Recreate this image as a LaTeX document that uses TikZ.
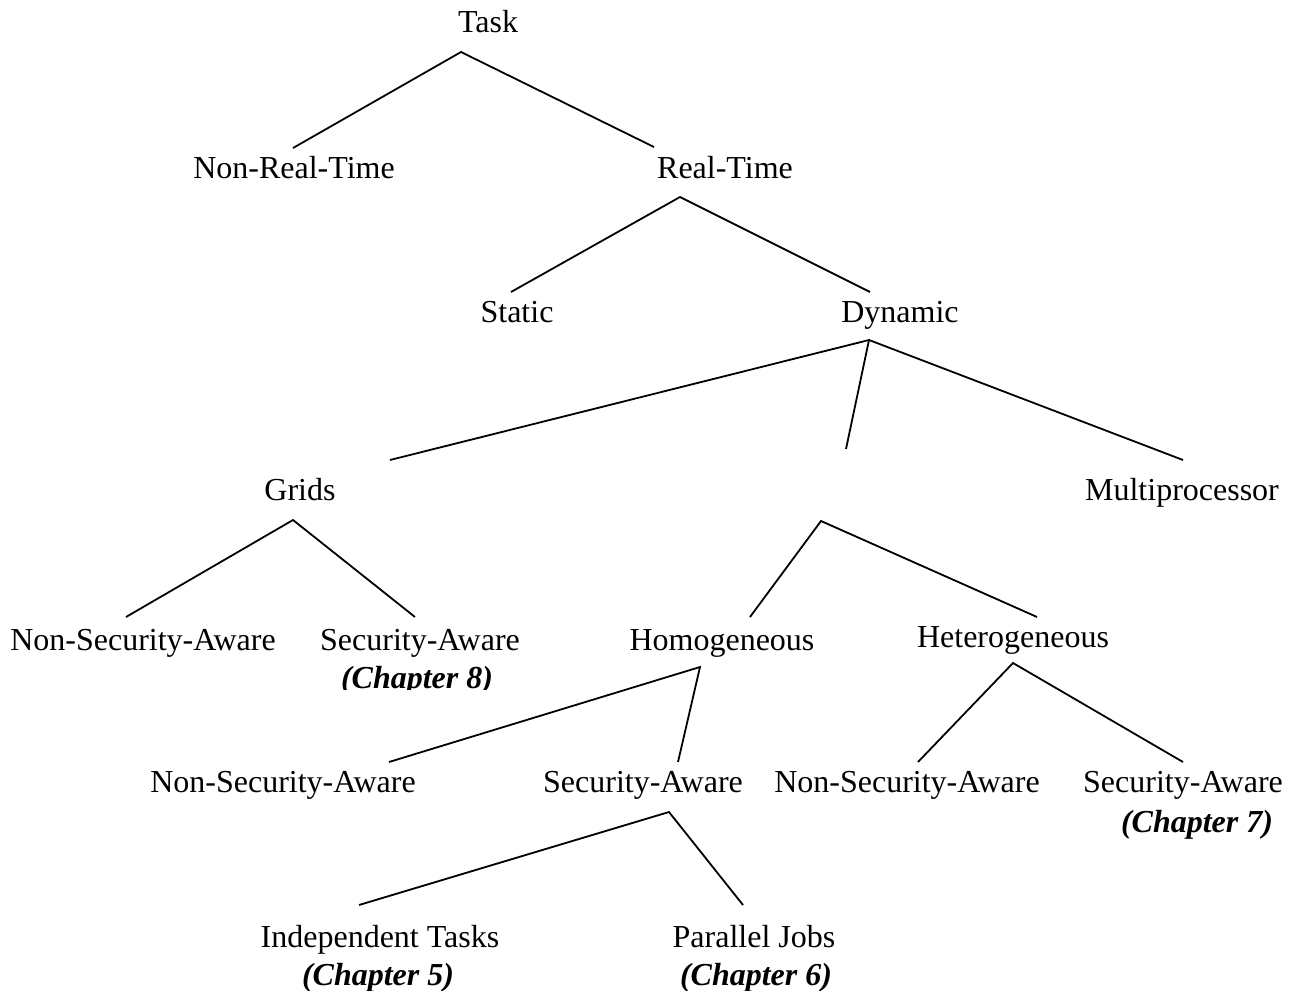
\documentclass[tikz,border=0pt]{standalone}
\usepackage{fontspec}
\setmainfont{Liberation Serif}
\begin{document}
\begin{tikzpicture}[x=1pt,y=-1pt,
  lbl/.style={anchor=base, inner sep=0pt, font=\fontsize{32}{38}\selectfont},
  chap/.style={anchor=base, inner sep=0pt, font=\fontsize{32}{38}\selectfont\bfseries\itshape},
  edge/.style={line width=1.8pt}]
\useasboundingbox (0,0) rectangle (1303,990);

% labels
\node[lbl] (task)    at (488,33)  {Task};
\node[lbl] (nrt)     at (294,178) {Non-Real-Time};
\node[lbl] (rt)      at (725,178) {Real-Time};
\node[lbl] (static)  at (517,322) {Static};
\node[lbl] (dynamic) at (900,322) {Dynamic};
\node[lbl] (grids)   at (300,500) {Grids};
\node[lbl] (multi)   at (1182,500) {Multiprocessor};
\node[lbl] (gnsa)    at (143,650) {Non-Security-Aware};
\node[lbl] (gsa)     at (420,650) {Security-Aware};
% the chapter note below the grid leaf is cut off at its baseline
\begin{scope}
  \clip (300,655) rectangle (540,689);
  \node[chap] (gch)  at (417,688) {(Chapter 8)};
\end{scope}
\node[lbl] (homo)    at (722,650) {Homogeneous};
\node[lbl] (hetero)  at (1013,647) {Heterogeneous};
\node[lbl] (hnsa)    at (283,792) {Non-Security-Aware};
\node[lbl] (hsa)     at (643,792) {Security-Aware};
\node[lbl] (ensa)    at (907,792) {Non-Security-Aware};
\node[lbl] (esa)     at (1183,792) {Security-Aware};
\node[chap] (ech)    at (1197,832) {(Chapter 7)};
\node[lbl] (indep)   at (380,947) {Independent Tasks};
\node[chap] (ich)    at (378,985) {(Chapter 5)};
\node[lbl] (par)     at (754,947) {Parallel Jobs};
\node[chap] (pch)    at (756,985) {(Chapter 6)};

% branch points and branch ends
\coordinate (task-j)  at (461,52);
\coordinate (nrt-t)   at (293,148);
\coordinate (rt-t)    at (654,147);
\coordinate (rt-j)    at (680,197);
\coordinate (static-t) at (511,292);
\coordinate (dyn-t)   at (870,292);
\coordinate (dyn-j)   at (869,340);
\coordinate (grids-t) at (390,460);
\coordinate (mid-t)   at (846,449);
\coordinate (multi-t) at (1183,460);
\coordinate (grids-j) at (293,520);
\coordinate (gnsa-t)  at (126,617);
\coordinate (gsa-t)   at (415,617);
\coordinate (mid-j)   at (821,521);
\coordinate (homo-t)  at (750,617);
\coordinate (hetero-t) at (1037,617);
\coordinate (homo-j)  at (700,667);
\coordinate (hnsa-t)  at (389,762);
\coordinate (hsa-t)   at (678,762);
\coordinate (hetero-j) at (1013,663);
\coordinate (ensa-t)  at (918,762);
\coordinate (esa-t)   at (1183,762);
\coordinate (hsa-j)   at (669,812);
\coordinate (indep-t) at (359,905);
\coordinate (par-t)   at (743,905);

% tree edges
\draw[edge] (nrt-t) -- (task-j) -- (rt-t);
\draw[edge] (static-t) -- (rt-j) -- (dyn-t);
\draw[edge] (grids-t) -- (dyn-j) -- (multi-t);
\draw[edge] (dyn-j) -- (mid-t);
\draw[edge] (gnsa-t) -- (grids-j) -- (gsa-t);
\draw[edge] (homo-t) -- (mid-j) -- (hetero-t);
\draw[edge] (hnsa-t) -- (homo-j) -- (hsa-t);
\draw[edge] (ensa-t) -- (hetero-j) -- (esa-t);
\draw[edge] (indep-t) -- (hsa-j) -- (par-t);
\end{tikzpicture}
\end{document}
